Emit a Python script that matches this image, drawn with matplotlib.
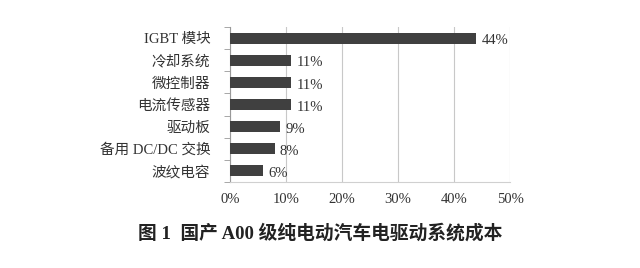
import matplotlib.pyplot as plt
import numpy as np

# data, top to bottom
categories = ["IGBT 模块", "冷却系统", "微控制器", "电流传感器", "驱动板", "备用 DC/DC 交换", "波纹电容"]
shares = [44, 11, 11, 11, 9, 8, 6]
x_ticks = [0, 10, 20, 30, 40, 50]
title = "图 1  国产 A00 级纯电动汽车电驱动系统成本"

fam = ["Liberation Serif", "Noto Sans CJK SC"]
plt.rcParams["font.family"] = fam

fig = plt.figure(figsize=(6.4, 2.68), dpi=100)
ax = fig.add_axes([0.359, 0.321, 0.438, 0.578])

y = np.arange(len(categories))
ax.barh(y, shares, height=0.5, color="#404040", zorder=3)
for yi, v in zip(y, shares):
    ax.text(v + 0.9, yi + 0.12, f"{v}%", va="center", ha="left",
            fontsize=10.5, color="#333333")

ax.set_xlim(0, 50)
ax.set_ylim(len(categories) - 0.5, -0.5)
ax.set_xticks(x_ticks)
ax.set_xticklabels([f"{t}%" for t in x_ticks], fontsize=10.5, color="#333333")
ax.set_yticks(y)
ax.set_yticklabels(categories, fontsize=10.5, color="#333333")
ax.set_yticks(np.arange(-0.5, len(categories), 1), minor=True)
ax.tick_params(axis="y", which="major", length=0, pad=14)
ax.tick_params(axis="y", which="minor", length=4, color="#999999")
ax.tick_params(axis="x", length=0, pad=8)

ax.grid(axis="x", color="#c8c8c8", linewidth=0.8, zorder=0)
for s in ["top", "right"]:
    ax.spines[s].set_visible(False)
ax.spines["left"].set_color("#999999")
ax.spines["bottom"].set_color("#d0d0d0")

fig.text(0.5, 0.13, title, ha="center", va="center", fontsize=13.5,
         fontweight="bold", color="#222222", family=fam)

fig.savefig("out.png", dpi=100, facecolor="white")
